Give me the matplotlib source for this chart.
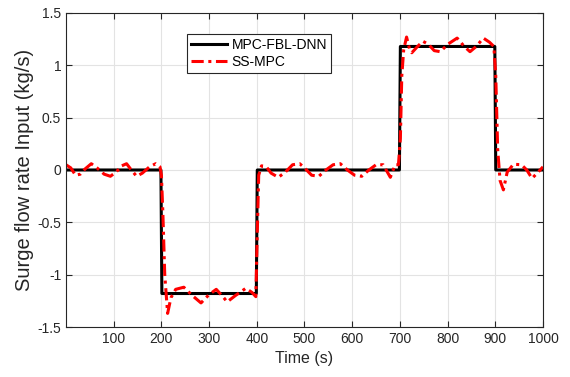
import matplotlib.pyplot as plt
import numpy as np

plt.rcParams['font.family'] = ['Liberation Sans', 'DejaVu Sans']

# Proposed controller (MPC-FBL-DNN): step reference tracking
t_dnn = [0, 199, 201, 399, 401, 699, 701, 899, 901, 1000]
u_dnn = [0, 0, -1.18, -1.18, 0, 0, 1.18, 1.18, 0, 0]

# Baseline controller (SS-MPC), oscillating around the steps
t_ss = [0, 10, 20, 30, 40, 53, 65, 80, 93, 105, 117, 127, 137, 148, 160, 175, 188, 197,
        200, 203, 207, 213, 220, 230, 247, 265, 283, 300, 315, 327, 338, 355, 377, 390, 398,
        401, 404, 410, 420, 430, 445, 460, 475, 490, 500, 515, 530, 545, 560, 575, 590,
        605, 620, 635, 650, 665, 680, 690, 697,
        701, 704, 708, 714, 720, 725, 735, 748, 760, 772, 785, 800, 820, 835, 847, 860, 875, 888, 897,
        901, 905, 910, 917, 925, 938, 955, 966, 977, 990, 1000]
u_ss = [0.05, 0.02, -0.05, -0.04, 0.01, 0.06, 0.02, -0.04, -0.06, -0.02, 0.04, 0.06, 0.0, -0.06, -0.03, 0.03, 0.06, 0.03,
        -0.05, -0.4, -1.0, -1.37, -1.22, -1.14, -1.12, -1.2, -1.27, -1.19, -1.14, -1.2, -1.26, -1.2, -1.13, -1.17, -1.21,
        -0.6, -0.05, 0.04, 0.03, -0.03, -0.07, -0.02, 0.05, 0.06, 0.02, -0.05, -0.06, 0.0, 0.05, 0.06, 0.0,
        -0.05, -0.06, 0.0, 0.05, 0.05, -0.07, 0.05, 0.05,
        0.3, 0.9, 1.15, 1.27, 1.16, 1.12, 1.17, 1.23, 1.2, 1.14, 1.13, 1.2, 1.26, 1.18, 1.13, 1.18, 1.26, 1.22, 1.18,
        0.9, 0.2, -0.1, -0.19, -0.02, 0.055, 0.05, 0.0, -0.08, -0.02, 0.03]

fig = plt.figure(figsize=(5.7, 3.77), dpi=100)
ax = fig.add_axes([0.1158, 0.1326, 0.8368, 0.833])

ax.plot(t_dnn, u_dnn, color='black', linewidth=2.2, label='MPC-FBL-DNN')
ax.plot(t_ss, u_ss, color='red', linewidth=2.2, dashes=(4, 1.5, 1, 1.5), label='SS-MPC')

ax.set_xlim(0, 1000)
ax.set_ylim(-1.5, 1.5)
ax.set_xticks(np.arange(100, 1001, 100))
ax.set_yticks(np.arange(-1.5, 1.51, 0.5))
ax.set_yticklabels(['-1.5', '-1', '-0.5', '0', '0.5', '1', '1.5'])
ax.grid(True, color='#e3e3e3', linewidth=0.8)
ax.set_axisbelow(True)
ax.tick_params(direction='in', top=True, right=True, length=4, colors='#262626', labelsize=10)
for s in ax.spines.values():
    s.set_color('#262626')
    s.set_linewidth(0.8)

ax.set_xlabel('Time (s)', fontsize=11.5, color='#262626')
ax.set_ylabel('Surge flow rate Input (kg/s)', fontsize=14.5, color='#262626', labelpad=2)

leg = ax.legend(loc='upper left', bbox_to_anchor=(0.254, 0.933), fontsize=10, fancybox=False,
                framealpha=1, edgecolor='#262626', borderpad=0.3, handlelength=2.6,
                handletextpad=0.3, labelspacing=0.2, borderaxespad=0)
leg.get_frame().set_linewidth(0.8)

plt.savefig('out.png', dpi=100)
